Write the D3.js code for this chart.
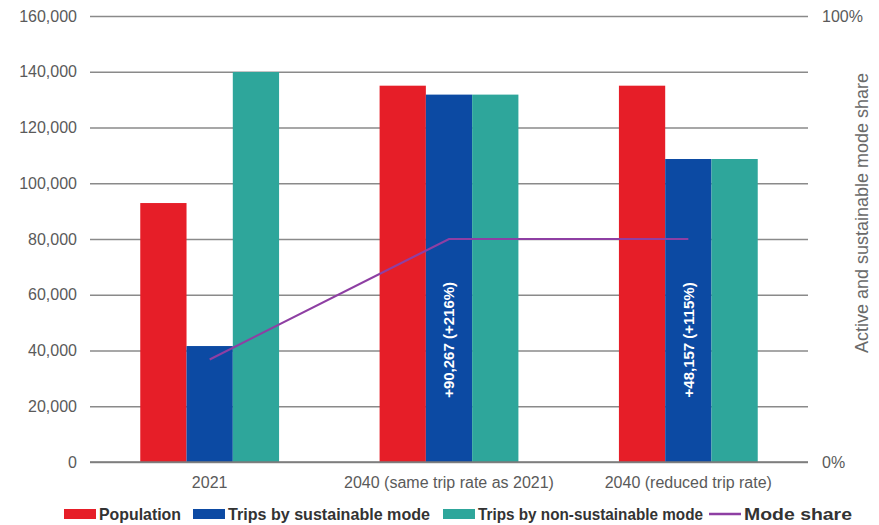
<!DOCTYPE html>
<html>
<head>
<meta charset="utf-8">
<script src="https://cdn.jsdelivr.net/npm/d3@7"></script>
<style>
  body { margin: 0; background: #fff; }
  svg { display: block; font-family: "Liberation Sans", Arial, sans-serif; }
</style>
</head>
<body>
<svg id="chart" width="879" height="525"></svg>
<script>
// data
var categories = ["2021", "2040 (same trip rate as 2021)", "2040 (reduced trip rate)"];
var population = [92900, 135000, 135000];
var sustainableTrips = [41600, 131800, 108700];
var nonSustainableTrips = [139900, 131800, 108700];
var modeShare = [0.23, 0.50, 0.50];
var barLabels = ["", "+90,267 (+216%)", "+48,157 (+115%)"];
var leftTicks = [0, 20000, 40000, 60000, 80000, 100000, 120000, 140000, 160000];
var rightTicks = [0, 1];

var seriesNames = ["Population", "Trips by sustainable mode", "Trips by non-sustainable mode"];
var seriesColors = ["#e61e28", "#0c4aa3", "#2ea69b"];
var lineColor = "#8e3fa3";

var plotLeft = 90, plotRight = 808, plotTop = 16, plotBottom = 462;

var svg = d3.select("#chart");

var x = d3.scaleBand()
  .domain(categories)
  .range([plotLeft, plotRight])
  .paddingInner(0.42)
  .paddingOuter(0.21);

var xSeries = d3.scaleBand()
  .domain(seriesNames)
  .range([0, x.bandwidth()]);

var y = d3.scaleLinear().domain([0, 160000]).range([plotBottom, plotTop]);
var yRight = d3.scaleLinear().domain([0, 1]).range([plotBottom, plotTop]);

// gridlines + left axis
var leftAxis = svg.append("g")
  .attr("transform", "translate(" + plotLeft + ",0)")
  .call(d3.axisLeft(y)
    .tickValues(leftTicks)
    .tickFormat(d3.format(","))
    .tickSize(-(plotRight - plotLeft))
    .tickPadding(13));
leftAxis.select(".domain").remove();
leftAxis.selectAll(".tick line").attr("stroke", "#8a8a8a").attr("stroke-width", 1.6);
leftAxis.selectAll(".tick text")
  .attr("fill", "#5a5a5a")
  .style("font-size", "16px");

// right axis (labels only)
var rightAxis = svg.append("g")
  .attr("transform", "translate(" + plotRight + ",0)")
  .call(d3.axisRight(yRight)
    .tickValues(rightTicks)
    .tickFormat(d3.format(".0%"))
    .tickSize(0)
    .tickPadding(14));
rightAxis.select(".domain").remove();
rightAxis.selectAll(".tick text")
  .attr("fill", "#5a5a5a")
  .style("font-size", "16px");

svg.append("text")
  .attr("transform", "translate(868,213) rotate(-90)")
  .attr("text-anchor", "middle")
  .attr("fill", "#6a6a6a")
  .style("font-size", "18px")
  .text("Active and sustainable mode share");

// bars
var seriesData = [population, sustainableTrips, nonSustainableTrips];
var groups = svg.append("g").selectAll("g")
  .data(categories)
  .join("g")
  .attr("transform", function(d) { return "translate(" + x(d) + ",0)"; });

groups.selectAll("rect")
  .data(function(d, i) {
    return seriesNames.map(function(s, j) { return {name: s, value: seriesData[j][i], color: seriesColors[j]}; });
  })
  .join("rect")
  .attr("x", function(d) { return xSeries(d.name); })
  .attr("y", function(d) { return y(d.value); })
  .attr("width", xSeries.bandwidth())
  .attr("height", function(d) { return plotBottom - y(d.value); })
  .attr("fill", function(d) { return d.color; });

// rotated labels inside the blue bars
groups.append("text")
  .attr("transform", function() {
    var cx = xSeries(seriesNames[1]) + xSeries.bandwidth() / 2;
    return "translate(" + cx + "," + y(43800) + ") rotate(-90)";
  })
  .attr("text-anchor", "middle")
  .attr("dy", "0.36em")
  .attr("fill", "#fff")
  .style("font-size", "15px")
  .style("font-weight", "bold")
  .text(function(d, i) { return barLabels[i]; });

// baseline
svg.append("line")
  .attr("x1", plotLeft).attr("x2", plotRight)
  .attr("y1", plotBottom).attr("y2", plotBottom)
  .attr("stroke", "#7a7a7a").attr("stroke-width", 1.6);

// category labels
svg.append("g").selectAll("text")
  .data(categories)
  .join("text")
  .attr("x", function(d) { return x(d) + x.bandwidth() / 2; })
  .attr("y", 488)
  .attr("text-anchor", "middle")
  .attr("fill", "#5a5a5a")
  .style("font-size", "16px")
  .text(function(d) { return d; });

// mode share line
var line = d3.line()
  .x(function(d, i) { return x(categories[i]) + x.bandwidth() / 2; })
  .y(function(d) { return yRight(d); });

svg.append("path")
  .datum(modeShare)
  .attr("d", line)
  .attr("fill", "none")
  .attr("stroke", lineColor)
  .attr("stroke-width", 2.2);

// legend (condensed bold text)
var legendItems = [
  {name: seriesNames[0], color: seriesColors[0], type: "rect", x: 64, w: 82},
  {name: seriesNames[1], color: seriesColors[1], type: "rect", x: 193, w: 202},
  {name: seriesNames[2], color: seriesColors[2], type: "rect", x: 443, w: 225},
  {name: "Mode share", color: lineColor, type: "line", x: 709, w: 108}
];
var legend = svg.append("g").selectAll("g")
  .data(legendItems)
  .join("g")
  .attr("transform", function(d) { return "translate(" + d.x + ",514)"; });

legend.filter(function(d) { return d.type === "rect"; })
  .append("rect")
  .attr("x", 0).attr("y", -5)
  .attr("width", 32).attr("height", 10)
  .attr("fill", function(d) { return d.color; });

legend.filter(function(d) { return d.type === "line"; })
  .append("line")
  .attr("x1", 0).attr("x2", 32)
  .attr("y1", 0).attr("y2", 0)
  .attr("stroke", function(d) { return d.color; })
  .attr("stroke-width", 2.5);

legend.append("text")
  .attr("x", 35)
  .attr("dy", "0.36em")
  .attr("fill", "#333")
  .attr("textLength", function(d) { return d.w; })
  .attr("lengthAdjust", "spacingAndGlyphs")
  .style("font-size", "17px")
  .style("font-weight", "bold")
  .text(function(d) { return d.name; });
</script>
</body>
</html>
